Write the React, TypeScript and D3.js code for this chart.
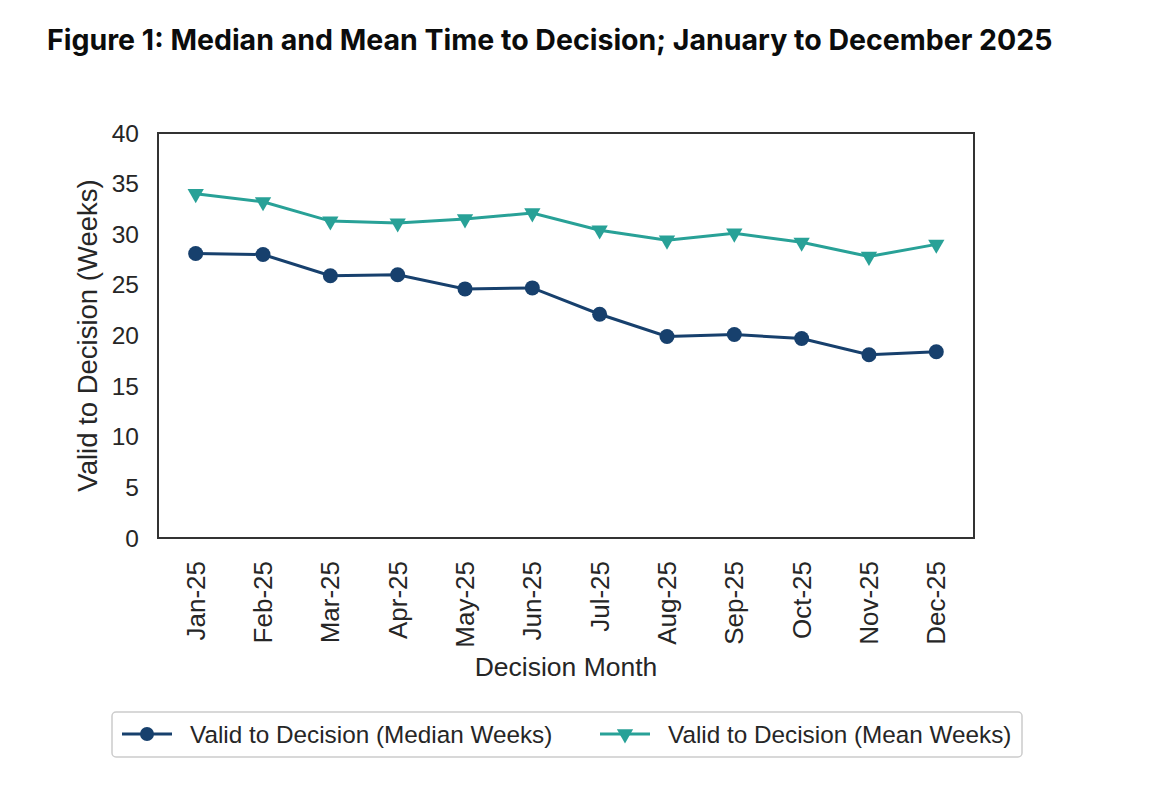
import React from "react";
import * as d3 from "d3";

const months = ["Jan-25","Feb-25","Mar-25","Apr-25","May-25","Jun-25","Jul-25","Aug-25","Sep-25","Oct-25","Nov-25","Dec-25"];
const medianWeeks = [28.1, 28.0, 25.9, 26.0, 24.6, 24.7, 22.1, 19.9, 20.1, 19.7, 18.1, 18.4];
const meanWeeks = [34.0, 33.2, 31.3, 31.1, 31.5, 32.1, 30.4, 29.4, 30.1, 29.2, 27.8, 29.0];
const yTicks = [0, 5, 10, 15, 20, 25, 30, 35, 40];

const W = 1150, H = 796;
const plot = { left: 158, right: 974, top: 133, bottom: 538 };
const C_MED = "#17406d";
const C_MEAN = "#28a197";
const FONT = "'Liberation Sans', Arial, sans-serif";

export default function App() {
  const x = d3.scalePoint<string>().domain(months).range([plot.left, plot.right]).padding(0.56);
  const y = d3.scaleLinear().domain([0, 40]).range([plot.bottom, plot.top]);
  const line = d3.line<number>().x((_, i) => x(months[i]) as number).y((d) => y(d));
  const tri = d3.symbol().type(d3.symbolTriangle).size(115)() as string;

  return (
    <svg width={W} height={H} style={{ position: "absolute", left: 0, top: 0, background: "#fff" }}>
      <text x={47} y={50} fontFamily="Inter, 'Noto Sans', sans-serif" fontWeight={700} fontSize={28.5} fill="#0b0c0c">
        Figure 1: Median and Mean Time to Decision; January to December 2025
      </text>

      {yTicks.map((t) => (
        <text key={t} x={139} y={y(t)} textAnchor="end" dominantBaseline="central" fontFamily={FONT} fontSize={24.5} fill="#262626">
          {t}
        </text>
      ))}

      {months.map((m) => (
        <text key={m} transform={`translate(${x(m)},${plot.bottom + 23}) rotate(-90)`} textAnchor="end" dominantBaseline="central" fontFamily={FONT} fontSize={26} fill="#262626">
          {m}
        </text>
      ))}

      <text transform={`translate(87,${(plot.top + plot.bottom) / 2}) rotate(-90)`} textAnchor="middle" dominantBaseline="central" fontFamily={FONT} fontSize={27.5} fill="#262626">
        Valid to Decision (Weeks)
      </text>
      <text x={(plot.left + plot.right) / 2} y={667} textAnchor="middle" dominantBaseline="central" fontFamily={FONT} fontSize={26.5} fill="#262626">
        Decision Month
      </text>

      <path d={line(meanWeeks) as string} fill="none" stroke={C_MEAN} strokeWidth={3} />
      {meanWeeks.map((v, i) => (
        <path key={i} d={tri} transform={`translate(${x(months[i])},${y(v)}) rotate(180)`} fill={C_MEAN} />
      ))}
      <path d={line(medianWeeks) as string} fill="none" stroke={C_MED} strokeWidth={3} />
      {medianWeeks.map((v, i) => (
        <circle key={i} cx={x(months[i]) as number} cy={y(v)} r={7.5} fill={C_MED} />
      ))}

      <rect x={plot.left} y={plot.top} width={plot.right - plot.left} height={plot.bottom - plot.top} fill="none" stroke="#333" strokeWidth={2} />

      <rect x={112} y={712} width={910} height={45} rx={4} fill="#fff" stroke="#cccccc" strokeWidth={1.5} />
      <line x1={122} x2={172} y1={734} y2={734} stroke={C_MED} strokeWidth={3} />
      <circle cx={147} cy={734} r={7} fill={C_MED} />
      <text x={190} y={734} dominantBaseline="central" fontFamily={FONT} fontSize={24.3} fill="#262626">
        Valid to Decision (Median Weeks)
      </text>
      <line x1={600} x2={650} y1={734} y2={734} stroke={C_MEAN} strokeWidth={3} />
      <path d={tri} transform={`translate(625,734) rotate(180)`} fill={C_MEAN} />
      <text x={668} y={734} dominantBaseline="central" fontFamily={FONT} fontSize={24.3} fill="#262626">
        Valid to Decision (Mean Weeks)
      </text>
    </svg>
  );
}
